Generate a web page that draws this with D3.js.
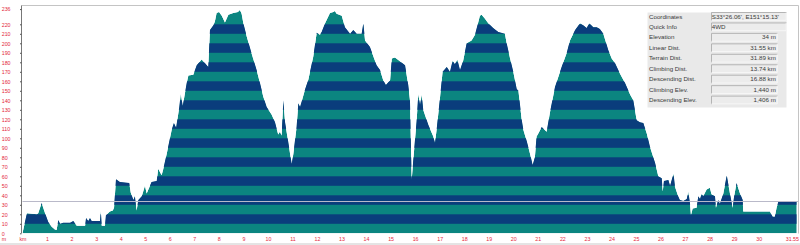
<!DOCTYPE html>
<html><head><meta charset="utf-8">
<script src="https://cdn.jsdelivr.net/npm/d3@7"></script>
<style>
html,body{margin:0;padding:0;background:#fff;overflow:hidden}
svg{display:block}
</style></head>
<body>
<svg id="c" width="800" height="245"></svg>
<script>
// distance along track (km) and elevation (m)
const distKm = [0,0.1,0.18,0.58,0.64,0.78,0.92,1.05,1.19,1.32,1.39,1.46,1.53,1.66,1.94,2.07,2.21,2.55,2.59,2.68,2.75,2.82,3.16,3.19,3.23,3.36,3.40,3.56,3.68,3.73,3.81,3.97,4.35,4.41,4.52,4.58,4.65,4.72,4.86,4.99,5.06,5.26,5.47,5.53,5.67,5.74,5.88,6.08,6.17,6.26,6.39,6.45,6.53,6.69,6.76,6.96,7.10,7.30,7.44,7.57,7.64,7.78,7.84,7.91,8.01,8.12,8.25,8.39,8.59,8.78,8.86,8.93,9.00,9.14,9.34,9.54,9.68,9.81,9.95,10.15,10.29,10.42,10.49,10.56,10.63,10.70,10.83,10.97,11.04,11.17,11.24,11.31,11.38,11.51,11.65,11.85,11.99,12.12,12.19,12.33,12.53,12.67,12.73,12.80,13.01,13.14,13.35,13.48,13.62,13.82,13.89,13.96,14.16,14.30,14.43,14.57,14.70,14.81,14.98,15.05,15.18,15.38,15.59,15.72,15.79,15.86,15.95,16.06,16.13,16.20,16.27,16.33,16.54,16.74,16.81,16.88,17.01,17.12,17.29,17.42,17.53,17.62,17.72,17.83,17.96,18.10,18.30,18.44,18.57,18.64,18.71,18.84,18.98,19.18,19.39,19.66,19.73,19.87,20.00,20.14,20.21,20.34,20.41,20.55,20.68,20.79,20.88,20.95,21.02,21.16,21.36,21.50,21.70,21.97,22.18,22.31,22.52,22.72,22.85,22.99,23.10,23.26,23.40,23.53,23.67,23.87,24.01,24.15,24.35,24.56,24.76,24.89,25.03,25.16,25.30,25.44,25.57,25.78,25.91,26.05,26.09,26.14,26.32,26.39,26.53,26.59,26.72,26.79,26.93,27.07,27.13,27.20,27.24,27.31,27.47,27.54,27.61,27.68,27.74,27.88,28.01,28.08,28.22,28.26,28.35,28.42,28.56,28.70,28.83,28.94,29.00,29.10,29.24,29.35,29.37,30.46,30.57,30.66,30.73,30.80,31.55];
const elevM = [0,12,21,20,21,32,21,12,7,4,3.5,14,10,11,11,13,8,8,16,13,16,13,13,24,8,8,19,23,24,27,57,54,53,43,35,39,24,35,39,50,42,54,55,68,61,68,84,109,116,111,133,147,134,158,166,167,177,183,179,175,214,219,223,232,233,229,222,230,232,233,235,231,221,207,189,172,158,144,133,125,117,104,107,103,140,117,96,73,84,112,137,133,139,151,162,186,211,209,212,221,232,233,234,231,229,217,210,214,210,210,221,203,196,186,177,172,161,156,161,184,185,181,177,156,140,56,85,118,147,135,146,130,114,102,95,110,142,170,175,170,182,178,183,172,182,200,203,209,222,229,230,226,221,216,212,210,200,184,170,152,150,120,109,97,84,72,80,102,105,112,107,128,154,175,190,203,214,221,219,216,221,217,217,215,210,193,184,179,168,158,146,140,119,117,116,105,91,74,60,58,44,55,56,50,63,49,39,35,34,36,44,32,19,26,27,39,36,42,39,46,48,41,39,27,35,31,42,61,42,27,39,53,42,35,23,23,17.5,17.5,27,33,33];

const yTickValues = [0,10,20,30,40,50,60,70,80,90,100,110,120,130,140,150,160,170,180,190,200,210,220,236];
const xTickValues = [0,1,2,3,4,5,6,7,8,9,10,11,12,13,14,15,16,17,18,19,20,21,22,23,24,25,26,27,28,29,30];
const xTickLabels = ["km","1","2","3","4","5","6","7","8","9","10","11","12","13","14","15","16","17","18","19","20","21","22","23","24","25","26","27","28","29","30"];
const totalKm = 31.55;
const cursorElev = 34;
const navyBandStarts = [10,30,50,70,90,110,130,150,170,190,210];

const infoLabels = ["Coordinates","Quick Info","Elevation","Linear Dist.","Terrain Dist.","Climbing Dist.","Descending Dist.","Climbing Elev.","Descending Elev."];
const infoValues = ["S33°26.06', E151°15.13'","4WD","34 m","31.55 km","31.89 km","13.74 km","16.88 km","1,440 m","1,406 m"];

const svg = d3.select("#c");
const W = 800, H = 245;
const x = d3.scaleLinear().domain([0, totalKm]).range([22.5, 796.7]);
const y = d3.scaleLinear().domain([0, 236]).range([233.3, 9.1]);
const data = distKm.map((d,i)=>({d, e: elevM[i]}));

const teal = "#0b8580", navy = "#0a3d7c", red = "#e3283c";
const font = "Liberation Sans, Arial, sans-serif";

svg.append("rect").attr("x",0).attr("y",243).attr("width",W).attr("height",2).attr("fill","#e4e4e4");

const area = d3.area().x(p=>x(p.d)).y0(y(0)).y1(p=>y(p.e)).curve(d3.curveLinear);

svg.append("clipPath").attr("id","ac").append("path").attr("d", area(data));
const g = svg.append("g").attr("clip-path","url(#ac)");
g.append("path").attr("d", area(data)).attr("fill", teal);
g.selectAll("rect.band").data(navyBandStarts).join("rect")
  .attr("class","band")
  .attr("x", x(0)).attr("width", x(totalKm)-x(0))
  .attr("y", d=>y(d+10)).attr("height", d=>y(d)-y(d+10))
  .attr("fill", navy);

// top and right borders
svg.append("line").attr("x1",21.5).attr("x2",798.5).attr("y1",5.5).attr("y2",5.5).attr("stroke","#c4c4c4").attr("stroke-width",1);
svg.append("line").attr("x1",798.5).attr("x2",798.5).attr("y1",5.5).attr("y2",233.5).attr("stroke","#c4c4c4").attr("stroke-width",1);

// cursor elevation line
svg.append("line").attr("x1",x(0)).attr("x2",798.5)
  .attr("y1",Math.round(y(cursorElev))+0.5).attr("y2",Math.round(y(cursorElev))+0.5)
  .attr("stroke","#b9b9c9").attr("stroke-width",1);

// y axis
const yAxis = d3.axisLeft(y).tickValues(yTickValues).tickSize(1.5).tickFormat(d=>d);
const ya = svg.append("g").attr("transform","translate(21.5,0)").call(yAxis);
ya.select(".domain").attr("stroke","#777").attr("d","M0,5.5V233.3");
ya.selectAll(".tick line").attr("stroke","#555");
ya.selectAll(".tick text").attr("x",-19.8).attr("text-anchor","start")
  .attr("fill",red).attr("font-family",font).attr("font-size","5.3px").attr("dy","0.35em");

// x axis
const xAxis = d3.axisBottom(x).tickValues(xTickValues).tickSize(0).tickFormat((d,i)=>xTickLabels[i]);
const xa = svg.append("g").attr("transform","translate(0,233.3)").call(xAxis);
xa.select(".domain").remove();
xa.selectAll(".tick text").attr("y",5.7).attr("dy","0.35em")
  .attr("fill",red).attr("font-family",font).attr("font-size","5.3px");

svg.append("text").attr("x",799).attr("y",239).attr("dy","0.35em").attr("text-anchor","end")
  .attr("fill",red).attr("font-family",font).attr("font-size","5.3px").text(totalKm.toFixed(2));
svg.append("text").attr("x",1.7).attr("y",239).attr("dy","0.35em")
  .attr("fill",red).attr("font-family",font).attr("font-size","5.3px").text("m");

// info panel
const px = 647.5, py = 12.5, pw = 139, ph = 95;
const panel = svg.append("g");
panel.append("rect").attr("x",px).attr("y",py).attr("width",pw).attr("height",ph).attr("fill","#e9e9e9");
const rowY = i => 16.3 + i*10.45;
infoLabels.forEach((lab,i)=>{
  const cy = rowY(i);
  const bx = 711, bw = i<2 ? 75.5 : 66.5, bh = 8.6;
  const by = cy - bh/2;
  panel.append("rect").attr("x",bx).attr("y",by).attr("width",bw).attr("height",bh).attr("fill","#ececec");
  panel.append("path").attr("d",`M${bx+0.5},${by+bh}V${by+0.5}H${bx+bw}`).attr("fill","none").attr("stroke","#a6a6a6").attr("stroke-width",0.8);
  panel.append("path").attr("d",`M${bx+0.5},${by+bh-0.3}H${bx+bw-0.3}V${by+0.5}`).attr("fill","none").attr("stroke","#fafafa").attr("stroke-width",0.8);
  panel.append("text").attr("x",649).attr("y",cy).attr("dy","0.36em")
    .attr("fill","#3a3a3a").attr("font-family",font).attr("font-size","6.2px").text(lab);
  const t = panel.append("text").attr("y",cy).attr("dy","0.36em")
    .attr("fill","#3a3a3a").attr("font-family",font).attr("font-size","6.2px").text(infoValues[i]);
  if (i<2) t.attr("x",711.8); else t.attr("x",775.8).attr("text-anchor","end");
});
</script>
</body></html>
